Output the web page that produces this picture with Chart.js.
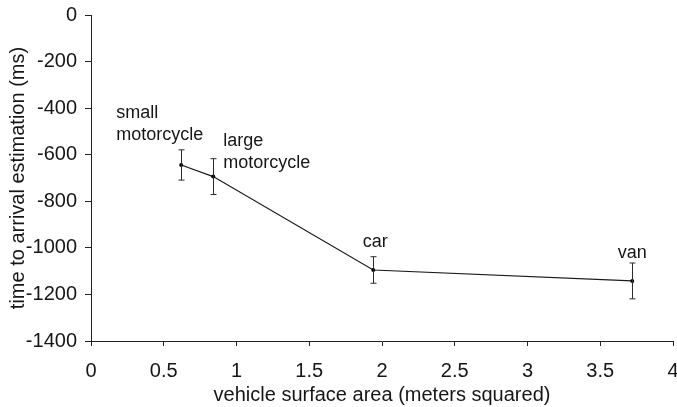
<!DOCTYPE html>
<html lang="en">
  <head>
    <meta charset="UTF-8" />
    <title>Time to arrival vs vehicle size</title>
    <script src="https://cdn.jsdelivr.net/npm/chart.js"></script>
    <style>
      html, body {
        margin: 0;
        padding: 0;
        background: #ffffff;
      }
      #wrap {
        width: 677px;
        height: 407px;
      }
    </style>
  </head>
  <body>
    <div id="wrap">
      <canvas id="ttaChart" width="677" height="407"></canvas>
    </div>

    <script>
      // data
      const vehicles = ['small motorcycle', 'large motorcycle', 'car', 'van'];
      const surfaceArea = [0.62, 0.84, 1.94, 3.72];
      const ttaEstimate = [-644, -694, -1095, -1142];
      const ttaError = [65, 77, 57, 77];

      const xTicks = [0, 0.5, 1, 1.5, 2, 2.5, 3, 3.5, 4];
      const yTicks = [0, -200, -400, -600, -800, -1000, -1200, -1400];

      // how each vehicle name is split and placed next to its point
      const labelLines = [['small', 'motorcycle'], ['large', 'motorcycle'], ['car'], ['van']];
      const labelPlace = [
        { dx: -65, dy: -47, align: 'left' },
        { dx: 10, dy: -31, align: 'left' },
        { dx: 2, dy: -23, align: 'center' },
        { dx: 0, dy: -23, align: 'center' }
      ];

      const FONT = '"Liberation Sans", Arial, sans-serif';
      const INK = '#161616';

      const errorBarsAndLabels = {
        id: 'errorBarsAndLabels',
        afterDatasetsDraw(chart) {
          const ctx = chart.ctx;
          const xs = chart.scales.x;
          const ys = chart.scales.y;
          ctx.save();
          ctx.strokeStyle = '#2b2b2b';
          ctx.lineWidth = 1;
          surfaceArea.forEach((a, i) => {
            const px = Math.round(xs.getPixelForValue(a)) + 0.5;
            const top = ys.getPixelForValue(ttaEstimate[i] + ttaError[i]);
            const bot = ys.getPixelForValue(ttaEstimate[i] - ttaError[i]);
            ctx.beginPath();
            ctx.moveTo(px, top);
            ctx.lineTo(px, bot);
            ctx.moveTo(px - 3, top);
            ctx.lineTo(px + 3, top);
            ctx.moveTo(px - 3, bot);
            ctx.lineTo(px + 3, bot);
            ctx.stroke();
          });

          ctx.fillStyle = INK;
          ctx.font = '18px ' + FONT;
          ctx.textBaseline = 'alphabetic';
          vehicles.forEach((v, i) => {
            const px = xs.getPixelForValue(surfaceArea[i]);
            const py = ys.getPixelForValue(ttaEstimate[i]);
            const p = labelPlace[i];
            ctx.textAlign = p.align;
            labelLines[i].forEach((line, j) => {
              ctx.fillText(line, px + p.dx, py + p.dy + j * 22);
            });
          });
          ctx.restore();
        }
      };

      const ctx = document.getElementById('ttaChart').getContext('2d');

      const ttaChart = new Chart(ctx, {
        type: 'scatter',
        data: {
          datasets: [{
            label: 'time to arrival estimation',
            data: surfaceArea.map((a, i) => ({ x: a, y: ttaEstimate[i] })),
            showLine: true,
            borderColor: '#1a1a1a',
            borderWidth: 1.2,
            backgroundColor: '#000000',
            pointRadius: 2,
            pointBorderWidth: 0,
            pointHoverRadius: 2
          }]
        },
        options: {
          responsive: false,
          animation: false,
          events: [],
          layout: {
            padding: { left: 0, right: 4, top: 15, bottom: 0 }
          },
          plugins: {
            legend: { display: false },
            tooltip: { enabled: false }
          },
          scales: {
            x: {
              type: 'linear',
              min: 0,
              max: 4,
              afterBuildTicks: (scale) => {
                scale.ticks = xTicks.map(v => ({ value: v }));
              },
              afterFit: (scale) => {
                scale.height = 66;
                scale.paddingLeft = 0;
                scale.paddingRight = 0;
              },
              grid: {
                drawOnChartArea: false,
                drawTicks: true,
                tickLength: 5,
                tickColor: '#222'
              },
              border: { color: '#222', width: 1 },
              ticks: {
                color: INK,
                font: { family: FONT, size: 20 },
                padding: 13,
                maxRotation: 0,
                callback: (v) => String(v)
              },
              title: {
                display: true,
                text: 'vehicle surface area (meters squared)',
                color: INK,
                font: { family: FONT, size: 20 },
                padding: { top: 3, bottom: 0 }
              }
            },
            y: {
              type: 'linear',
              min: -1400,
              max: 0,
              afterBuildTicks: (scale) => {
                scale.ticks = yTicks.map(v => ({ value: v }));
              },
              afterFit: (scale) => {
                scale.width = 91;
                scale.paddingTop = 0;
                scale.paddingBottom = 0;
              },
              grid: {
                drawOnChartArea: false,
                drawTicks: true,
                tickLength: 6,
                tickColor: '#222'
              },
              border: { color: '#222', width: 1 },
              ticks: {
                color: INK,
                font: { family: FONT, size: 20 },
                padding: 8,
                callback: (v) => String(v)
              },
              title: {
                display: true,
                text: 'time to arrival estimation (ms)',
                color: INK,
                font: { family: FONT, size: 20 },
                padding: { top: 6, bottom: 0 }
              }
            }
          }
        },
        plugins: [errorBarsAndLabels]
      });
    </script>
  </body>
</html>
